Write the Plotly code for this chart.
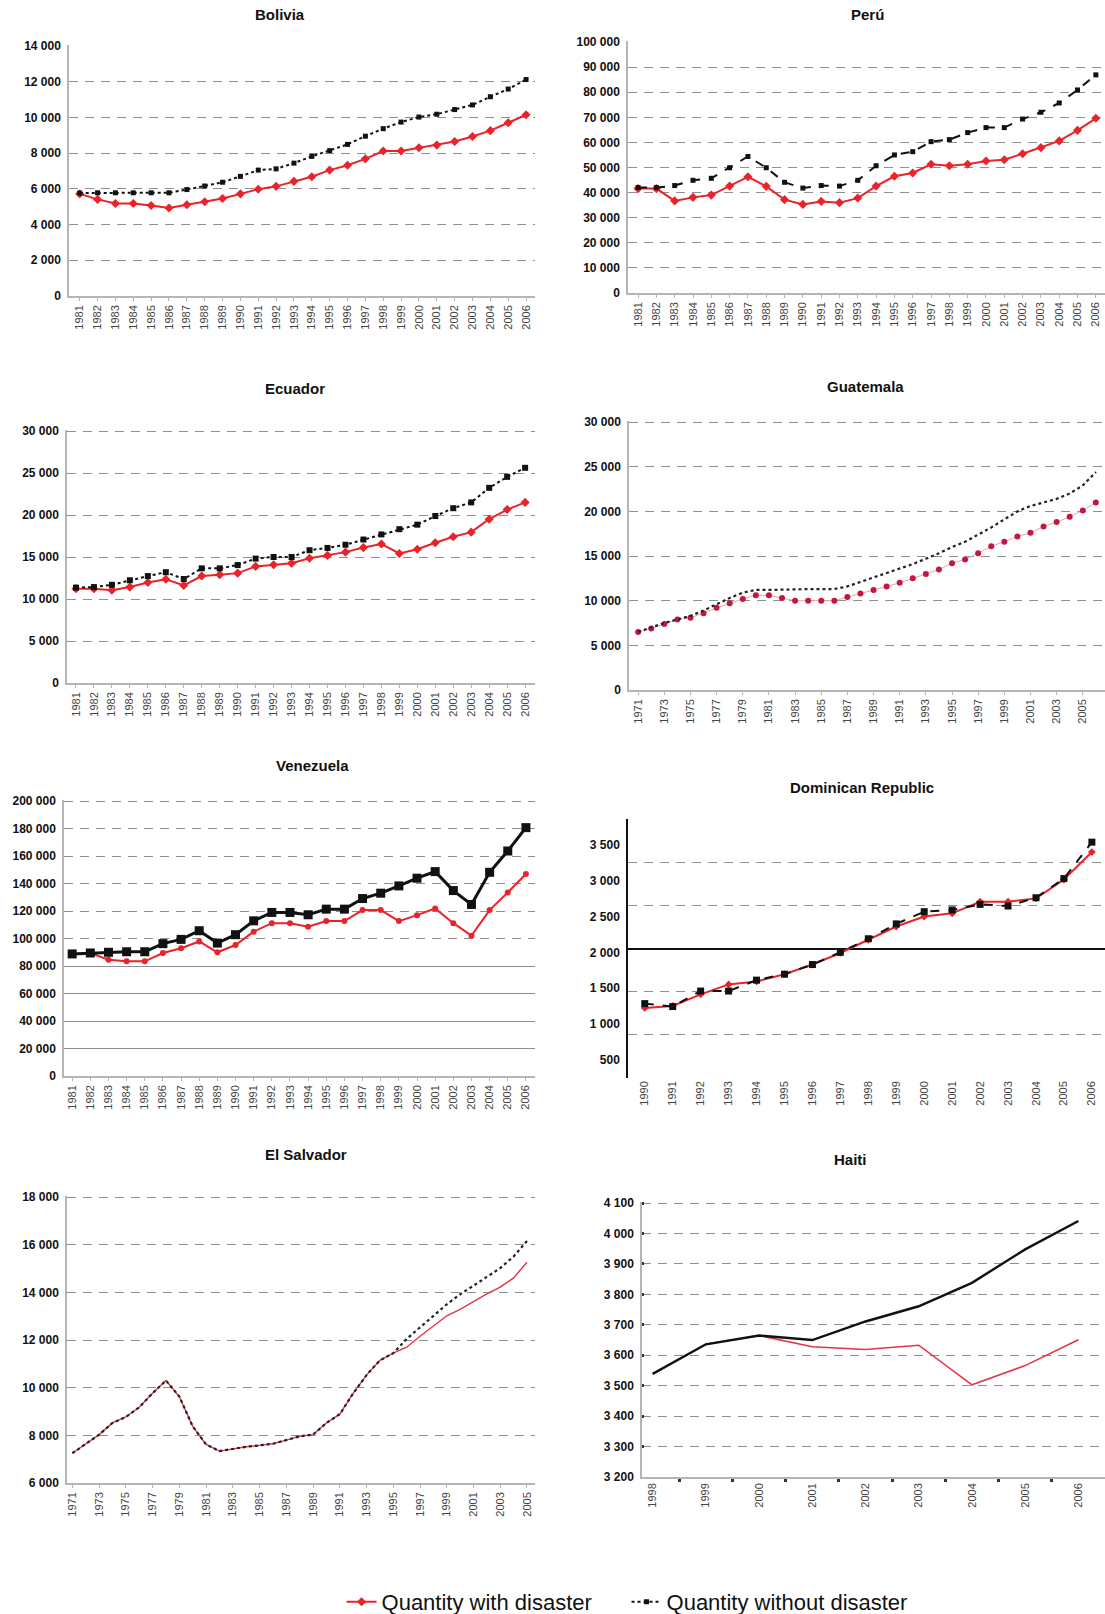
import plotly.graph_objects as go

W, H = 1105, 1614

# ---------------- data ----------------
years_81 = list(range(1981, 2007))
years_71 = list(range(1971, 2007))
years_71_05 = list(range(1971, 2006))
years_90 = list(range(1990, 2007))
years_98 = list(range(1998, 2007))

bolivia_with = [5720, 5410, 5180, 5180, 5070, 4930, 5110, 5280, 5460, 5720, 5980, 6140, 6420,
                6680, 7050, 7320, 7680, 8120, 8120, 8300, 8450, 8650, 8930, 9260, 9700, 10150]
bolivia_without = [5760, 5780, 5780, 5780, 5780, 5780, 5960, 6160, 6370, 6700, 7050, 7120, 7440,
                   7820, 8140, 8490, 8950, 9370, 9740, 10020, 10180, 10440, 10700, 11160, 11590, 12120]

peru_with = [41600, 41600, 36700, 38100, 39000, 42600, 46300, 42500, 37200, 35300, 36500, 36000, 37800,
             42600, 46500, 47800, 51300, 50700, 51300, 52600, 53100, 55500, 57900, 60600, 64800, 69600]
peru_without = [42000, 42000, 42800, 44900, 45700, 49900, 54400, 49900, 44100, 41800, 42800, 42600, 44900,
                50700, 55000, 56300, 60300, 61100, 63900, 65900, 65900, 69300, 72000, 75700, 80900, 86900]

ecuador_with = [11230, 11230, 11040, 11420, 11960, 12350, 11620, 12730, 12880, 13080, 13880, 14080, 14270,
                14850, 15190, 15580, 16120, 16540, 15420, 15920, 16690, 17420, 17960, 19500, 20650, 21500]
ecuador_without = [11350, 11420, 11690, 12230, 12730, 13190, 12380, 13650, 13650, 14040, 14810, 15000, 15000,
                   15810, 16080, 16460, 17080, 17690, 18310, 18850, 19880, 20810, 21500, 23230, 24540, 25620]

guatemala_with = [6500, 6900, 7400, 7900, 8100, 8600, 9200, 9700, 10200, 10600, 10600, 10300, 10000, 10000,
                  10000, 10000, 10400, 10800, 11200, 11600, 12000, 12500, 13000, 13500, 14200, 14600, 15300,
                  16100, 16600, 17200, 17600, 18300, 18800, 19400, 20100, 21000]
guatemala_without = [6500, 7000, 7500, 7900, 8300, 8900, 9600, 10300, 10900, 11200, 11200, 11250, 11250, 11300,
                     11300, 11300, 11600, 12100, 12600, 13100, 13600, 14100, 14700, 15300, 16000, 16600, 17400,
                     18200, 19100, 20000, 20600, 21000, 21400, 22000, 22900, 24400]

venezuela_with = [88800, 89500, 84600, 83400, 83400, 89500, 92900, 97900, 90000, 95300, 105000, 111200, 111200,
                  108600, 112700, 112700, 120700, 120700, 112700, 117000, 121900, 111200, 102100, 120700,
                  133500, 147000]
venezuela_without = [88800, 89500, 90000, 90400, 90400, 96300, 99400, 105700, 96700, 102800, 112900, 119000,
                     119000, 117300, 121400, 121400, 129100, 133000, 138300, 143900, 148700, 134900, 124800,
                     148200, 163700, 180700]

domrep_with = [1222, 1250, 1412, 1551, 1593, 1694, 1829, 1991, 2176, 2361, 2500, 2546, 2708, 2708, 2755, 3019, 3403]
domrep_without = [1282, 1241, 1458, 1458, 1611, 1694, 1829, 2000, 2190, 2398, 2569, 2593, 2671, 2648, 2764, 3032, 3542]

salvador_with = [7250, 7650, 8030, 8520, 8770, 9180, 9770, 10300, 9630, 8380, 7620, 7340, 7440, 7520, 7580,
                 7650, 7800, 7960, 8030, 8520, 8890, 9760, 10530, 11150, 11450, 11700, 12160, 12600, 13020,
                 13290, 13610, 13940, 14220, 14610, 15270]
salvador_without = [7250, 7650, 8030, 8520, 8770, 9180, 9770, 10300, 9630, 8380, 7620, 7340, 7440, 7520, 7580,
                    7650, 7800, 7960, 8030, 8520, 8890, 9760, 10530, 11150, 11450, 12050, 12530, 13020, 13500,
                    13920, 14300, 14650, 15020, 15510, 16160]

haiti_with = [3539, 3636, 3665, 3628, 3619, 3633, 3503, 3566, 3651]
haiti_without = [3539, 3636, 3665, 3650, 3711, 3761, 3838, 3948, 4041]

# tick values
ticks_bolivia = list(range(0, 14001, 2000))
ticks_peru = list(range(0, 100001, 10000))
ticks_30k = list(range(0, 30001, 5000))
ticks_venezuela = list(range(0, 200001, 20000))
ticks_venezuela_solid = [20000, 40000, 60000, 80000]
ticks_domrep = list(range(500, 3501, 500))
ticks_salvador = list(range(6000, 18001, 2000))
ticks_haiti = list(range(3200, 4101, 100))
odd_years_71 = list(range(1971, 2006, 2))
haiti_bounds = [y + 0.5 for y in range(1998, 2006)]

LEGEND_WITH = "Quantity with disaster"
LEGEND_WITHOUT = "Quantity without disaster"

# ---------------- styling ----------------
RED = "#e8232a"
CRIMSON = "#c41640"
BLACK = "#111111"
GRID = "#8f8f8f"
AXIS = "#b5b5b5"
FONT = "Liberation Sans, Arial, sans-serif"
YTICKFONT = dict(family=FONT, size=12, color="#111111", weight="bold")
XTICKFONT = dict(family=FONT, size=11, color="#444444")
GRIDDASH = "9px,7px"


def fmt(v):
    return f"{v:,}".replace(",", " ")


def fx(p):
    return p / W


def fy(p):
    return 1 - p / H


def pad(lo, hi):
    # tiny headroom so the top gridline is still drawn
    return [lo, hi + (hi - lo) * 0.004]


fig = go.Figure()


def xaxis(dom, rng, tickvals, line=True, ticks="outside"):
    return dict(domain=[fx(dom[0]), fx(dom[1])], range=rng, tickvals=tickvals,
                ticktext=[str(v) for v in tickvals], tickangle=-90, tickfont=XTICKFONT,
                showgrid=False, zeroline=False, showline=line, linecolor=AXIS, linewidth=1.5,
                ticks=ticks, ticklen=3, tickcolor=AXIS)


def yaxis(dom, rng, tickvals, grid=True, linecolor=AXIS):
    return dict(domain=[fy(dom[1]), fy(dom[0])], range=rng, tickvals=tickvals,
                ticktext=[fmt(v) for v in tickvals], tickfont=YTICKFONT,
                showgrid=grid, gridcolor=GRID, griddash=GRIDDASH, gridwidth=1.4,
                zeroline=False, showline=True, linecolor=linecolor, linewidth=1.5,
                ticks="", ticklabelstandoff=4)


def red_trace(x, y, ax, show=False, **kw):
    d = dict(x=x, y=y, mode="lines+markers", name=LEGEND_WITH, legendgroup="with", showlegend=show,
             line=dict(color=RED, width=2), marker=dict(symbol="diamond", size=7, color=RED),
             xaxis="x" + ax, yaxis="y" + ax)
    d.update(kw)
    fig.add_trace(go.Scatter(**d))


def black_trace(x, y, ax, show=False, **kw):
    d = dict(x=x, y=y, mode="lines+markers", name=LEGEND_WITHOUT, legendgroup="without", showlegend=show,
             line=dict(color=BLACK, width=2, dash="dot"), marker=dict(symbol="square", size=5, color=BLACK),
             xaxis="x" + ax, yaxis="y" + ax)
    d.update(kw)
    fig.add_trace(go.Scatter(**d))


# Bolivia (1)
red_trace(years_81, bolivia_with, "", show=True)
black_trace(years_81, bolivia_without, "", show=True)
# Peru (2)
red_trace(years_81, peru_with, "2")
black_trace(years_81, peru_without, "2", line=dict(color=BLACK, width=2, dash="dash"),
            marker=dict(symbol="square", size=5, color=BLACK))
# Ecuador (3)
red_trace(years_81, ecuador_with, "3")
black_trace(years_81, ecuador_without, "3", marker=dict(symbol="square", size=6, color=BLACK))
# Guatemala (4)
red_trace(years_71, guatemala_with, "4", line=dict(color="#eaa3ad", width=1),
          marker=dict(symbol="circle", size=6, color=CRIMSON))
black_trace(years_71, guatemala_without, "4", mode="lines", line=dict(color="#222222", width=2.2, dash="dot"))
# Venezuela (5)
red_trace(years_81, venezuela_with, "5", marker=dict(symbol="circle", size=6, color=RED))
black_trace(years_81, venezuela_without, "5", line=dict(color=BLACK, width=3),
            marker=dict(symbol="square", size=9, color=BLACK))
# Dominican Republic (6)
red_trace(years_90, domrep_with, "6", marker=dict(symbol="diamond", size=6, color=RED))
black_trace(years_90, domrep_without, "6", line=dict(color=BLACK, width=2, dash="dash"),
            marker=dict(symbol="square", size=7, color=BLACK))
# El Salvador (7)
red_trace(years_71_05, salvador_with, "7", mode="lines", line=dict(color="#e0364a", width=1.4))
black_trace(years_71_05, salvador_without, "7", mode="lines", line=dict(color="#222222", width=2.2, dash="dot"))
# Haiti (8)
red_trace(years_98, haiti_with, "8", mode="lines", line=dict(color="#e0364a", width=1.6))
black_trace(years_98, haiti_without, "8", mode="lines", line=dict(color=BLACK, width=2.4, dash="solid"))

# empty traces that carry the extra grid axes
for xa, ya in (("x6", "y9"), ("x5", "y10")):
    fig.add_trace(go.Scatter(x=[None], y=[None], xaxis=xa, yaxis=ya, showlegend=False, hoverinfo="skip"))

layout = dict(
    xaxis=xaxis((69, 535), [1980.4, 2006.5], years_81),
    yaxis=yaxis((45, 296), pad(0, 14000), ticks_bolivia),
    xaxis2=xaxis((628, 1105), [1980.45, 2006.5], years_81),
    yaxis2=yaxis((41, 293), pad(0, 100000), ticks_peru),
    xaxis3=xaxis((67, 535), [1980.5, 2006.55], years_81),
    yaxis3=yaxis((430, 683), pad(0, 30000), ticks_30k),
    xaxis4=xaxis((629, 1105), [1970.3, 2006.7], odd_years_71),
    yaxis4=yaxis((421, 690), pad(0, 30000), ticks_30k),
    xaxis5=xaxis((64, 535), [1980.55, 2006.5], years_81),
    yaxis5=yaxis((800, 1076), pad(0, 200000), ticks_venezuela),
    xaxis6=xaxis((628, 1105), [1989.4, 2006.47], years_90, line=False, ticks=""),
    yaxis6=yaxis((819, 1078), [241, 3866], ticks_domrep, grid=False, linecolor=BLACK),
    xaxis7=xaxis((67, 535), [1970.6, 2005.6], odd_years_71),
    yaxis7=yaxis((1196, 1483), pad(6000, 18000), ticks_salvador),
    xaxis8=xaxis((642, 1105), [1997.8, 2006.5], years_98, ticks="outside"),
    yaxis8=yaxis((1202, 1477), pad(3200, 4100), ticks_haiti),
)
for i in range(1, 9):
    s = "" if i == 1 else str(i)
    layout["xaxis" + s]["anchor"] = "y" + s
    layout["yaxis" + s]["anchor"] = "x" + s

layout["xaxis8"]["ticklen"] = 0
layout["xaxis8"]["minor"] = dict(tickvals=haiti_bounds, ticks="outside", ticklen=3, tickcolor="#333", tickwidth=2.5)
layout["yaxis8"]["ticks"] = "inside"
layout["yaxis8"]["ticklen"] = 2
layout["yaxis8"]["tickwidth"] = 2.5
layout["yaxis8"]["tickcolor"] = "#333"

# Dominican Republic: evenly spaced grid with a solid middle reference line
layout["yaxis9"] = dict(overlaying="y6", anchor="x6", range=[-3.02, 3.02], tickvals=[-3, -2, -1, 0, 1, 2, 3],
                        showticklabels=False, showgrid=True, gridcolor=GRID, griddash=GRIDDASH, gridwidth=1.4,
                        zeroline=True, zerolinecolor=BLACK, zerolinewidth=1.6, showline=False, ticks="")
# Venezuela: solid grid for the lower band
layout["yaxis10"] = dict(overlaying="y5", anchor="x5", range=pad(0, 200000), tickvals=ticks_venezuela_solid,
                         showticklabels=False, showgrid=True, gridcolor=GRID, gridwidth=1.4,
                         zeroline=False, showline=False, ticks="")

titles = [("Bolivia", 280, 15), ("Perú", 867, 15), ("Ecuador", 295, 389), ("Guatemala", 865, 386),
          ("Venezuela", 312, 766), ("Dominican Republic", 862, 787), ("El Salvador", 306, 1154),
          ("Haiti", 850, 1159)]
annotations = [dict(text=t, x=fx(x), y=fy(y), xref="paper", yref="paper", showarrow=False,
                    xanchor="center", yanchor="middle",
                    font=dict(family=FONT, size=15, color="#111", weight="bold"))
               for t, x, y in titles]

fig.update_layout(
    **layout,
    annotations=annotations,
    width=W, height=H,
    margin=dict(l=0, r=0, t=0, b=0, autoexpand=False),
    paper_bgcolor="white", plot_bgcolor="white",
    font=dict(family=FONT),
    showlegend=True,
    legend=dict(orientation="h", x=0.567, xanchor="center", y=fy(1602), yanchor="middle",
                font=dict(family=FONT, size=22, color="#111"), bgcolor="rgba(0,0,0,0)",
                traceorder="normal", entrywidth=240, entrywidthmode="pixels"),
)

fig.write_html("out.html")
